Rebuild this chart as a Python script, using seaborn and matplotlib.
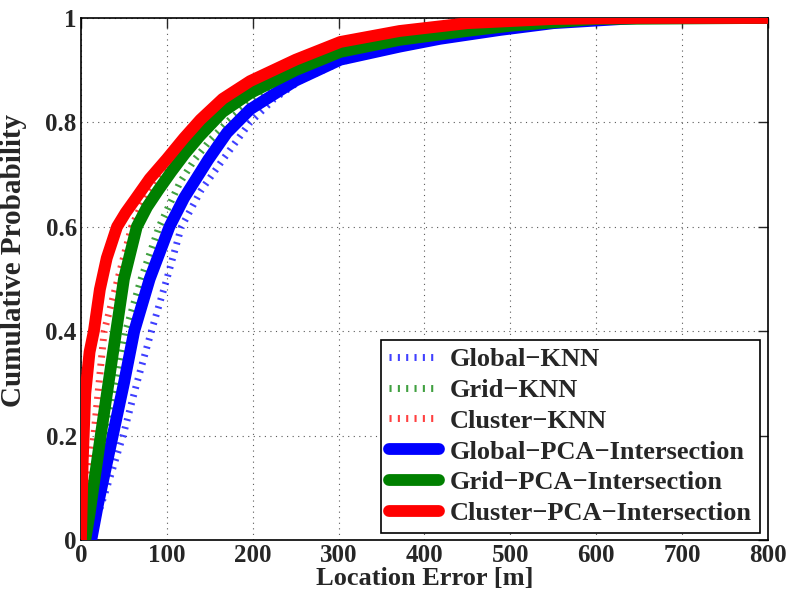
import numpy as np
import pandas as pd
import seaborn as sns
import matplotlib
matplotlib.use('Agg')
from matplotlib import pyplot as plt

# CDF curves (location error in m -> cumulative probability)
global_knn_x = [10, 30, 49, 65, 82, 100, 117, 140, 165, 197, 225, 255, 302, 371, 418, 488, 550, 650, 800]
global_knn_y = [0, 0.1, 0.2, 0.3, 0.4, 0.5, 0.6, 0.67, 0.728, 0.8, 0.845, 0.88, 0.915, 0.945, 0.96, 0.977, 0.99, 1, 1]

grid_knn_x = [5, 15, 30, 52, 70, 91, 115, 132, 150, 170, 197, 250, 302, 371, 449, 500, 600, 800]
grid_knn_y = [0, 0.1, 0.2, 0.4, 0.5, 0.6, 0.684, 0.728, 0.765, 0.8, 0.84, 0.895, 0.93, 0.955, 0.975, 0.985, 0.998, 1]

cluster_knn_x = [3, 8, 15, 27, 43, 59, 77, 105, 125, 145, 170, 197, 250, 302, 371, 450, 550, 650, 800]
cluster_knn_y = [0, 0.1, 0.2, 0.4, 0.5, 0.6, 0.665, 0.728, 0.77, 0.8, 0.84, 0.87, 0.915, 0.95, 0.972, 0.99, 0.998, 1, 1]

global_pca_x = [12, 20, 37, 50, 62, 80, 103, 120, 148, 170, 197, 250, 302, 371, 418, 488, 550, 650, 800]
global_pca_y = [0, 0.07, 0.2, 0.3, 0.4, 0.5, 0.6, 0.655, 0.728, 0.78, 0.825, 0.88, 0.92, 0.945, 0.96, 0.977, 0.99, 1, 1]

grid_pca_x = [5, 10, 23, 41, 50, 65, 77, 90, 105, 121, 139, 165, 197, 250, 302, 371, 449, 500, 600, 800]
grid_pca_y = [0, 0.05, 0.2, 0.4, 0.5, 0.6, 0.638, 0.67, 0.705, 0.74, 0.775, 0.82, 0.856, 0.9, 0.935, 0.958, 0.975, 0.985, 0.998, 1]

cluster_pca_x = [0, 2, 5, 10, 15, 22, 30, 42, 52, 62, 80, 100, 120, 139, 165, 197, 250, 302, 371, 450, 550, 650, 800]
cluster_pca_y = [0, 0.15, 0.28, 0.36, 0.4, 0.48, 0.54, 0.6, 0.627, 0.65, 0.692, 0.73, 0.77, 0.805, 0.845, 0.879, 0.92, 0.954, 0.975, 0.99, 0.998, 1, 1]

series = [
    ('Global\u2212KNN', global_knn_x, global_knn_y, 'blue', 'knn'),
    ('Grid\u2212KNN', grid_knn_x, grid_knn_y, 'green', 'knn'),
    ('Cluster\u2212KNN', cluster_knn_x, cluster_knn_y, 'red', 'knn'),
    ('Global\u2212PCA\u2212Intersection', global_pca_x, global_pca_y, 'blue', 'pca'),
    ('Grid\u2212PCA\u2212Intersection', grid_pca_x, grid_pca_y, 'green', 'pca'),
    ('Cluster\u2212PCA\u2212Intersection', cluster_pca_x, cluster_pca_y, 'red', 'pca'),
]

sns.set_style('white')
plt.rcParams['font.family'] = ['Liberation Serif', 'DejaVu Serif']
plt.rcParams['font.weight'] = 'bold'

fig = plt.figure(figsize=(7.9, 5.98), dpi=100)
ax = fig.add_axes([0.1025, 0.097, 0.8696, 0.873])

for name, xs, ys, col, kind in series:
    df = pd.DataFrame({'err': xs, 'prob': ys})
    if kind == 'knn':
        sns.lineplot(data=df, x='err', y='prob', ax=ax, color=col, lw=5,
                     linestyle=(0, (0.3, 0.9)), alpha=0.75, label=name, zorder=2)
    else:
        sns.lineplot(data=df, x='err', y='prob', ax=ax, color=col, lw=8.5,
                     label=name, zorder=3)

ax.set_xlim(0, 800)
ax.set_ylim(0, 1)
ax.set_xticks(np.arange(0, 801, 100))
ax.set_yticks([0, 0.2, 0.4, 0.6, 0.8, 1])
ax.set_yticklabels(['0', '0.2', '0.4', '0.6', '0.8', '1'])
ax.tick_params(direction='in', top=True, right=True, length=7, width=1,
               labelsize=18, pad=3)
for lab in ax.get_xticklabels() + ax.get_yticklabels():
    lab.set_fontweight('bold')
ax.grid(True, linestyle=(0, (1, 4)), color='0.35', lw=0.8)
for sp in ax.spines.values():
    sp.set_color('black')
    sp.set_linewidth(1.2)

ax.set_xlabel('Location Error [m]', fontsize=19, fontweight='bold', labelpad=0)
ax.set_ylabel('Cumulative Probability', fontsize=21, fontweight='bold')
ax.yaxis.set_label_coords(-0.078, 0.536)

leg = ax.legend(loc='lower right', bbox_to_anchor=(0.988, 0.013), fontsize=19,
                frameon=True, fancybox=False, edgecolor='black', framealpha=1,
                handlelength=1.9, labelspacing=0.28, borderpad=0.3,
                handletextpad=0.4, borderaxespad=0)
leg.get_frame().set_linewidth(1.2)
for t in leg.get_texts():
    t.set_fontweight('bold')

fig.savefig('out.png', dpi=100)
